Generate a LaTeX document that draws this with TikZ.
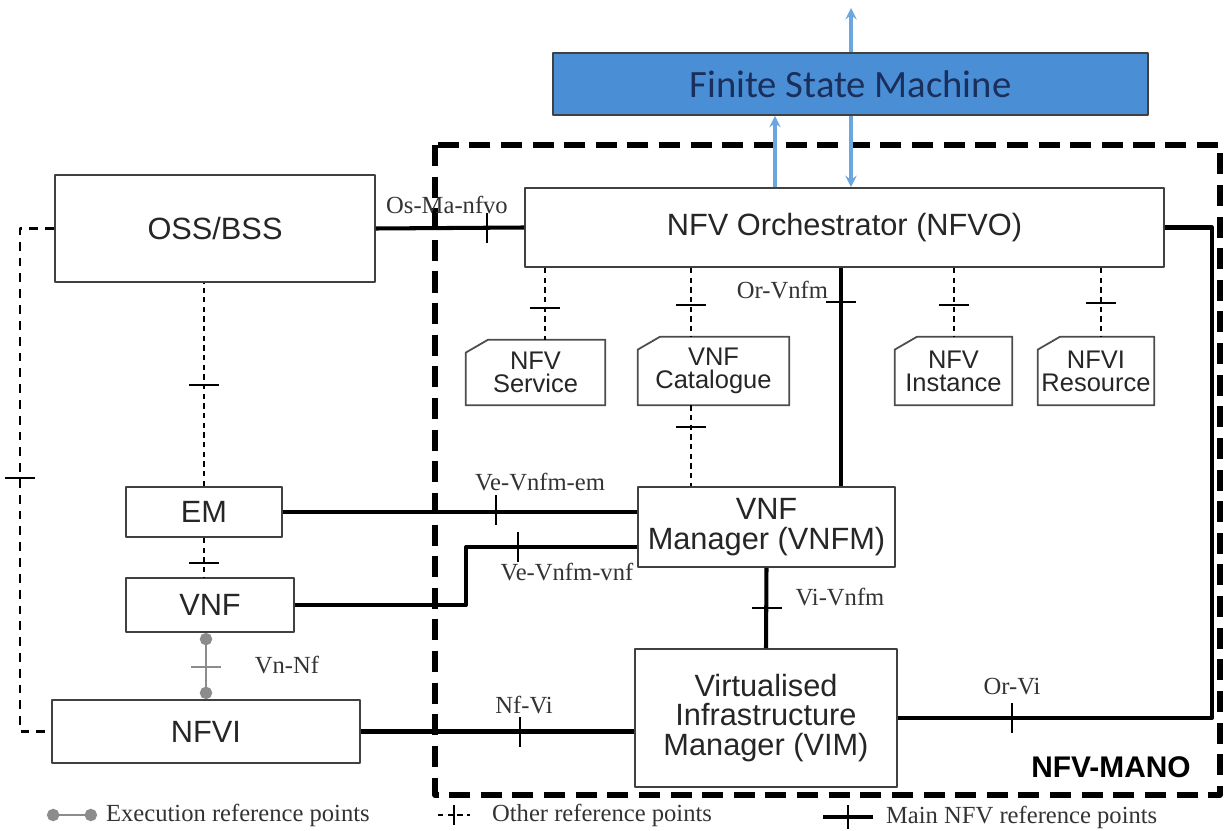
\documentclass[tikz,border=0pt]{standalone}
\usepackage{fontspec}
\setmainfont{Liberation Serif}
\setsansfont{Liberation Sans}
\newfontfamily\fsmfont{Carlito}
\usetikzlibrary{arrows.meta}
\definecolor{fsmblue}{HTML}{4A8FD6}
\definecolor{fsmtext}{HTML}{1B2F5C}
\definecolor{arrblue}{HTML}{6CA6DE}
\tikzset{
  blk/.style={draw=black!75, line width=1.1pt, fill=white, inner sep=0pt, align=center, font=\sffamily\fontsize{17.5}{17}\selectfont, text=black!85},
  store/.style={inner sep=0pt, align=center, font=\sffamily\fontsize{14.5}{13}\selectfont, text=black!85},
  main/.style={line width=2.3pt},
  oth/.style={line width=.8pt, dash pattern=on 3pt off 2.5pt},
  exec/.style={draw=black!45, line width=1.7pt, {Circle[length=7pt]}-{Circle[length=7pt]}},
  arr/.style={draw=arrblue, line width=1.8pt},
  lbl/.style={font=\fontsize{14}{14}\selectfont, inner sep=1pt, text=black!80},
}
\begin{document}
\begin{tikzpicture}[x=.02cm, y=-.02cm, line join=round, >=stealth]
\useasboundingbox (0,0) rectangle (1225,831);
\path (545,0) coordinate (xsvc) (691,0) coordinate (xcat) (954,0) coordinate (xinst)
  (1101,0) coordinate (xres) (841,0) coordinate (xor) (466,547) coordinate (vbend)
  (1212,0) coordinate (xrt) (20,0) coordinate (xlft) (775,0) coordinate (xup)
  (851,8) coordinate (out);
% NFV-MANO boundary
\draw[line width=3.2pt, dash pattern=on 12pt off 6pt] (435,145) rectangle (1220,795);
\node[font=\sffamily\bfseries\fontsize{17}{17}\selectfont] (mano) at (1111,767) {NFV-MANO};

% blocks
\node[blk, minimum width=11.9cm, minimum height=1.24cm, fill=fsmblue, font=\fsmfont\fontsize{22}{22}\selectfont, text=fsmtext] (fsm) at (850.5,84) {Finite State Machine};
\node[blk, minimum width=6.4cm, minimum height=2.14cm] (oss) at (215,228.5) {OSS/BSS};
\node[blk, minimum width=12.78cm, minimum height=1.58cm] (nfvo) at (844.5,227.5) {NFV Orchestrator (NFVO)};
\node[blk, minimum width=3.12cm, minimum height=1cm] (em) at (204,512) {EM};
\node[blk, minimum width=3.36cm, minimum height=1.08cm] (vnf) at (210,605) {VNF};
\node[blk, minimum width=6.16cm, minimum height=1.26cm] (nfvi) at (206,731.5) {NFVI};
\node[blk, minimum width=5.14cm, minimum height=1.6cm] (vnfm) at (766.5,527) {VNF\\Manager (VNFM)};
\node[blk, minimum width=5.24cm, minimum height=2.76cm] (vim) at (766,718) {Virtualised\\Infrastructure\\Manager (VIM)};

% repositories
\node[store, minimum width=2.78cm, minimum height=1.3cm] (svc) at (535.5,372.5) {NFV\\Service};
\node[store, minimum width=3.02cm, minimum height=1.36cm] (cat) at (713.5,371) {VNF\\Catalogue};
\node[store, minimum width=2.34cm, minimum height=1.36cm] (inst) at (953.5,371) {NFV\\Instance};
\node[store, minimum width=2.32cm, minimum height=1.36cm] (res) at (1096,371) {NFVI\\Resource};
\foreach \s in {svc, cat, inst, res}
  \draw[black!70, line width=1pt] ([xshift=.45cm]\s.north west) -- (\s.north east) -- (\s.south east)
    -- (\s.south west) -- ([yshift=-.26cm]\s.north west) -- cycle;

% other reference points
\foreach \s/\x in {svc/xsvc, cat/xcat, inst/xinst, res/xres}
  \draw[oth] (\x |- nfvo.south) -- (\x |- \s.north);
\draw[oth] (xcat |- cat.south) -- (xcat |- vnfm.north);
\draw[oth] (em.north) -- (em.north |- oss.south);
\draw[oth] (em.south) -- (em.south |- vnf.north);
\draw[line width=1.4pt, dash pattern=on 5pt off 4pt] (oss.west) -| (xlft |- nfvi.west) -- (nfvi.west);

% main reference points
\draw[main] (oss.east) -- (nfvo.west);
\draw[main] (xor |- nfvo.south) -- (xor |- vnfm.north);
\draw[main] (em.east) -- (em.east -| vnfm.west);
\draw[main] (vnf.east) -| (vbend) -- (vbend -| vnfm.west);
\draw[main] (vnfm.south) -- (vim.north);
\draw[main] (nfvi.east) -- (nfvi.east -| vim.west);
\draw[main] (vim.east) -| (xrt |- nfvo.east) -- (nfvo.east);
\draw[exec] (nfvi.north) -- (nfvi.north |- vnf.south);

% finite state machine
\draw[arr, ->] (xup |- nfvo.north) -- (xup |- fsm.south);
\draw[arr, ->] (out |- fsm.south) -- (out |- nfvo.north);
\draw[arr, ->] (out |- fsm.north) -- (out);

% ticks
\foreach \x/\y in {487/228, 496/510, 518/547, 520/732, 1012/718}
  \draw[line width=1.3pt] (\x,\y-15) -- (\x,\y+15);
\foreach \x/\y in {841/302, 767/608}
  \draw[line width=1.3pt] (\x-15,\y) -- (\x+15,\y);
\foreach \x/\y in {545/308, 691/305, 954/305, 1101/303, 691/427, 204/385, 204/563, 20/478}
  \draw[line width=.9pt] (\x-15,\y) -- (\x+15,\y);
\draw[black!45, line width=1.3pt] (191,667) -- (221,667);

% labels
\node[lbl] (osma) at (447,205) {Os-Ma-nfvo};
\node[lbl, anchor=east] (orvnfm) at (830,290) {Or-Vnfm};
\node[lbl] (vevem) at (540,482) {Ve-Vnfm-em};
\node[lbl] (vevnf) at (567,572) {Ve-Vnfm-vnf};
\node[lbl] (vivnfm) at (840,597) {Vi-Vnfm};
\node[lbl] (vnnf) at (287,665) {Vn-Nf};
\node[lbl] (nfvil) at (524,705) {Nf-Vi};
\node[lbl] (orvi) at (1012,687) {Or-Vi};

% legend
\draw[exec] (47,815) -- (97,815);
\node[lbl, anchor=west] (lgexec) at (104,815) {Execution reference points};
\draw[oth] (438,815) -- (470,815);
\draw[line width=.9pt] (454,805) -- (454,825);
\node[lbl, anchor=west] (lgoth) at (490,815) {Other reference points};
\draw[main] (823,817) -- (873,817);
\draw[line width=1.3pt] (848,805) -- (848,829);
\node[lbl, anchor=west] (lgmain) at (884,817) {Main NFV reference points};
\end{tikzpicture}
\end{document}
